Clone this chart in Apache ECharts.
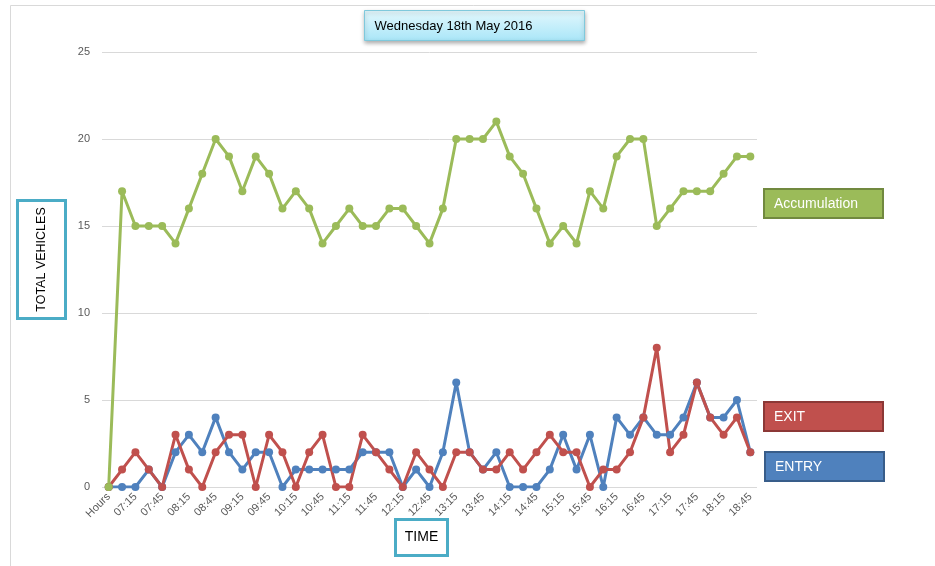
<!DOCTYPE html>
<html>
<head>
<meta charset="utf-8">
<script src="https://cdn.jsdelivr.net/npm/echarts@6/dist/echarts.min.js"></script>
<style>
  html, body { margin: 0; padding: 0; background: #fff; }
  #main { width: 935px; height: 566px; }
</style>
</head>
<body>
<div id="main"></div>
<script>
// x categories: "Hours" then 07:00 .. 18:45 in quarter hours
var times = ['Hours',
  '07:00','07:15','07:30','07:45','08:00','08:15','08:30','08:45',
  '09:00','09:15','09:30','09:45','10:00','10:15','10:30','10:45',
  '11:00','11:15','11:30','11:45','12:00','12:15','12:30','12:45',
  '13:00','13:15','13:30','13:45','14:00','14:15','14:30','14:45',
  '15:00','15:15','15:30','15:45','16:00','16:15','16:30','16:45',
  '17:00','17:15','17:30','17:45','18:00','18:15','18:30','18:45'];

var entry = [0, 0,0,1,0,2,3,2,4, 2,1,2,2,0,1,1,1, 1,1,2,2,2,0,1,0,
  2,6,2,1,2,0,0,0, 1,3,1,3,0,4,3,4, 3,3,4,6,4,4,5,2];

var exit = [0, 1,2,1,0,3,1,0,2, 3,3,0,3,2,0,2,3, 0,0,3,2,1,0,2,1,
  0,2,2,1,1,2,1,2, 3,2,2,0,1,1,2,4, 8,2,3,6,4,3,4,2];

var accumulation = [0, 17,15,15,15,14,16,18,20, 19,17,19,18,16,17,16,14,
  15,16,15,15,16,16,15,14, 16,20,20,20,21,19,18,16, 14,15,14,17,16,19,20,20,
  15,16,17,17,17,18,19,19];

var font = 'Liberation Sans';
var chart = echarts.init(document.getElementById('main'));

function line(name, data, color) {
  return {
    name: name, type: 'line', data: data,
    symbol: 'circle', symbolSize: 8,
    lineStyle: { color: color, width: 3 },
    itemStyle: { color: color },
    animation: false
  };
}

function tag(x, y, w, h, label, fill, stroke, textColor) {
  return {
    type: 'group', left: x, top: y,
    children: [
      { type: 'rect', shape: { x: 0, y: 0, width: w, height: h },
        style: { fill: fill, stroke: stroke, lineWidth: 2 } },
      { type: 'text', style: { x: 10, y: h / 2 + 1, text: label, fill: textColor,
        font: '14px ' + font, textVerticalAlign: 'middle' } }
    ]
  };
}

chart.setOption({
  animation: false,
  grid: { left: 102, right: 178, top: 52, bottom: 79 },
  xAxis: {
    type: 'category', data: times, boundaryGap: true,
    axisLine: { show: false }, axisTick: { show: false },
    axisLabel: { interval: 1, rotate: 45, color: '#595959', fontSize: 11, fontFamily: font, margin: 8 }
  },
  yAxis: {
    type: 'value', min: 0, max: 25, interval: 5,
    axisLine: { show: false }, axisTick: { show: false },
    axisLabel: { color: '#595959', fontSize: 11, fontFamily: font, margin: 12 },
    splitLine: { lineStyle: { color: '#d9d9d9', width: 1 } }
  },
  series: [
    line('ENTRY', entry, '#4f81bd'),
    line('EXIT', exit, '#c0504d'),
    line('Accumulation', accumulation, '#9bbb59')
  ],
  graphic: [
    { type: 'rect', left: 8, top: 3, shape: { width: 940, height: 580 },
      style: { fill: 'none', stroke: '#d9d9d9', lineWidth: 1 }, silent: true },
    { type: 'group', left: 364, top: 10, children: [
      { type: 'rect', shape: { x: 0, y: 0, width: 220, height: 30 },
        style: {
          fill: new echarts.graphic.LinearGradient(0, 0, 0, 1, [
            { offset: 0, color: '#e4f8fd' }, { offset: 1, color: '#a9e6f8' }]),
          stroke: '#7fc9dc', lineWidth: 1,
          shadowBlur: 4, shadowOffsetY: 2, shadowColor: 'rgba(0,0,0,0.3)'
        } },
      { type: 'text', style: { x: 10, y: 16, text: 'Wednesday 18th May 2016', fill: '#000',
        font: '13px ' + font, textVerticalAlign: 'middle' } }
    ] },
    { type: 'group', left: 16, top: 199, children: [
      { type: 'rect', shape: { x: 0, y: 0, width: 48, height: 118 },
        style: { fill: '#fff', stroke: '#4bacc6', lineWidth: 3 } },
      { type: 'text', x: 24, y: 59, rotation: Math.PI / 2,
        style: { text: 'TOTAL VEHICLES', fill: '#000', font: '12.5px ' + font,
          textAlign: 'center', textVerticalAlign: 'middle' } }
    ] },
    { type: 'group', left: 394, top: 518, children: [
      { type: 'rect', shape: { x: 0, y: 0, width: 52, height: 36 },
        style: { fill: '#fff', stroke: '#4bacc6', lineWidth: 3 } },
      { type: 'text', style: { x: 26, y: 18, text: 'TIME', fill: '#000', font: '14px ' + font,
        textAlign: 'center', textVerticalAlign: 'middle' } }
    ] },
    tag(763, 188, 119, 29, 'Accumulation', '#9bbb59', '#71893f', '#fff'),
    tag(763, 401, 119, 29, 'EXIT', '#c0504d', '#8c3836', '#fff'),
    tag(764, 451, 119, 29, 'ENTRY', '#4f81bd', '#385d8a', '#fff')
  ]
});
</script>
</body>
</html>
